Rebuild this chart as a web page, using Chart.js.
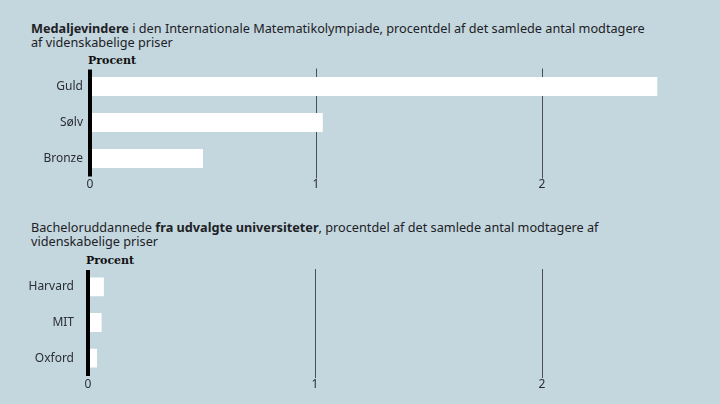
<!DOCTYPE html>
<html>
<head>
<meta charset="utf-8">
<script src="https://cdn.jsdelivr.net/npm/chart.js@4"></script>
<style>
  html, body { margin:0; padding:0; }
  body { width:720px; height:404px; background:#c4d6de; position:relative; overflow:hidden; font-family:"Noto Sans", sans-serif; color:#1c2225; }
  .title { position:absolute; left:31px; font-size:12.7px; line-height:14px; white-space:nowrap; }
  .title b { font-weight:700; }
  .unit { position:absolute; font-family:"DejaVu Serif", serif; font-weight:bold; font-size:11px; color:#111; }
  canvas { position:absolute; left:0; }
</style>
</head>
<body>
<div class="title" style="top:21px;"><b>Medaljevindere</b> i den Internationale Matematikolympiade, procentdel af det samlede antal modtagere<br>af videnskabelige priser</div>
<div class="unit" style="left:88px; top:54px;">Procent</div>
<canvas id="c1" width="720" height="140" style="top:60px;"></canvas>

<div class="title" style="top:220px;">Bacheloruddannede <b>fra udvalgte universiteter</b>, procentdel af det samlede antal modtagere af<br>videnskabelige priser</div>
<div class="unit" style="left:86px; top:254px;">Procent</div>
<canvas id="c2" width="720" height="140" style="top:260px;"></canvas>

<script>
const medalCategories = ['Guld', 'Sølv', 'Bronze'];
const medalValues = [2.51, 1.03, 0.5];
const uniCategories = ['Harvard', 'MIT', 'Oxford'];
const uniValues = [0.07, 0.06, 0.04];
const xTickValues = [0, 1, 2];
const xMax = 2.6;

const zeroAxisLine = {
  id: 'zeroAxisLine',
  afterDatasetsDraw(chart) {
    const { ctx, chartArea, scales } = chart;
    const x = scales.x.getPixelForValue(0);
    ctx.save();
    ctx.strokeStyle = '#000000';
    ctx.lineWidth = 4;
    ctx.beginPath();
    ctx.moveTo(x, chartArea.top + 1);
    ctx.lineTo(x, chartArea.bottom);
    ctx.stroke();
    ctx.restore();
  }
};

function makeChart(id, labels, values, yWidth, padding, labelPad) {
  return new Chart(document.getElementById(id), {
    type: 'bar',
    data: {
      labels: labels,
      datasets: [{
        data: values,
        backgroundColor: '#ffffff',
        borderWidth: 0,
        barPercentage: 0.53,
        categoryPercentage: 1
      }]
    },
    plugins: [zeroAxisLine],
    options: {
      indexAxis: 'y',
      responsive: false,
      animation: false,
      layout: { padding: padding },
      plugins: { legend: { display: false }, tooltip: { enabled: false } },
      scales: {
        x: {
          min: 0, max: xMax,
          afterBuildTicks: s => { s.ticks = xTickValues.map(v => ({ value: v })); },
          afterFit: s => { s.height = 20; s.paddingLeft = 0; s.paddingRight = 0; },
          border: { display: false },
          grid: {
            color: ctx => (ctx.tick && ctx.tick.value === 0) ? 'rgba(0,0,0,0)' : '#4a4f52',
            lineWidth: 1,
            drawTicks: true,
            tickLength: 2
          },
          ticks: {
            padding: -1,
            color: '#2a2f33',
            font: { family: 'Noto Sans', size: 12 }
          }
        },
        y: {
          afterFit: s => { s.width = yWidth; s.paddingTop = 0; s.paddingBottom = 0; },
          border: { display: false },
          grid: { display: false, drawTicks: false },
          ticks: {
            padding: labelPad,
            color: '#2a2f33',
            font: { family: 'Noto Sans', size: 12 }
          }
        }
      }
    }
  });
}

makeChart('c1', medalCategories, medalValues, 90, { top: 8.5, bottom: 3.5, left: 0, right: 42.4 }, 7);
makeChart('c2', uniCategories, uniValues, 88, { top: 9, bottom: 4, left: 0, right: 41.8 }, 14);
</script>
</body>
</html>
